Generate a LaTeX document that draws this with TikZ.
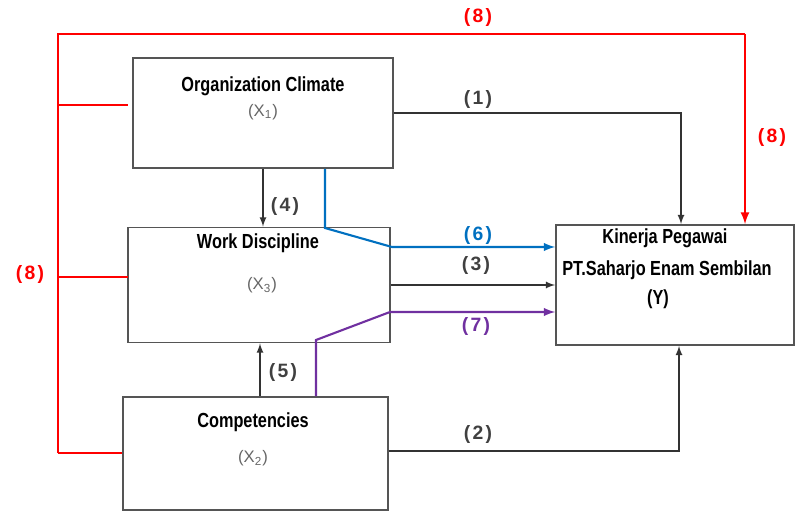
\documentclass[tikz,border=0pt]{standalone}
\usepackage{fontspec}
\setsansfont{Liberation Sans}
\newfontfamily\narrowfont[FakeStretch=0.8]{Liberation Sans}
\newfontfamily\numfont[LetterSpace=12]{Liberation Sans}
\usetikzlibrary{arrows,positioning}
\definecolor{linkblue}{RGB}{0,112,192}
\definecolor{linkpurple}{RGB}{112,48,160}
\definecolor{boxgray}{RGB}{85,85,85}

\begin{document}
\begin{tikzpicture}
[x=0.02cm,y=-0.02cm,>=latex,
 var/.style={draw=boxgray,line width=1.1pt,inner sep=0pt},
 title/.style={font=\narrowfont\bfseries\fontsize{11.6}{13}\selectfont},
 sub/.style={font=\sffamily\fontsize{9.5}{11}\selectfont,text=black!60},
 num/.style={font=\numfont\bfseries\fontsize{11}{12}\selectfont,text=black!75},
 link/.style={draw=black!80,line width=0.8pt},
 path8/.style={red,line width=1.3pt}]
\useasboundingbox (0,0) rectangle (795,513);

% variables
\node[var,minimum width=5.2cm,minimum height=2.2cm] (oc) at (263,113) {};
\node[var,minimum width=5.24cm,minimum height=2.3cm] (kd) at (259,285) {};
\node[var,minimum width=5.3cm,minimum height=2.26cm] (cp) at (255.5,453.5) {};
\node[var,minimum width=4.76cm,minimum height=2.4cm] (kp) at (675,285) {};

\node[title] (oct) at (263,86) {Organization Climate};
\node[sub] (ocs) at (263,112) {(X\textsubscript{1})};
\node[title] (kdt) at (258,243) {Work Discipline};
\node[sub] (kds) at (262,285) {(X\textsubscript{3})};
\node[title] (cpt) at (253,422) {Competencies};
\node[sub] (cps) at (253,458) {(X\textsubscript{2})};
\node[title] (kpt) at (665,238) {Kinerja Pegawai};
\node[title] (kpu) at (667,270) {PT.Saharjo Enam Sembilan};
\node[title] (kpy) at (658,299) {(Y)};

% simultaneous path (8)
\coordinate (rt) at (58,34);
\coordinate (rb) at (58,453);
\coordinate (rr) at (745,34);
\coordinate (s1) at (128,105);
\coordinate (s2) at (128,277);
\draw[path8] (rb) -- (rt) -- (rr);
\draw[path8,->] (rr) -- (kp.north -| rr);
\draw[path8] (rt |- s1) -- (s1);
\draw[path8] (rt |- s2) -- (s2);
\draw[path8] (rb) -- (cp.west |- rb);

% direct paths
\coordinate (j1) at (681,113);
\coordinate (j2) at (679,451);
\draw[link,->] (oc.east) -- (j1) -- (kp.north -| j1);
\draw[link,->] (cp.east |- j2) -- (j2) -- (kp.south -| j2);
\draw[link,->] (kd.east) -- (kp.west);
\draw[link,->] (oc.south) -- (kd.north -| oc.south);
\draw[link,->] (cp.north -| 260,0) -- (kd.south -| 260,0);

% indirect paths
\coordinate (b1) at (325,228);
\coordinate (b2) at (392,247);
\coordinate (p1) at (316,340);
\coordinate (p2) at (390,312);
\draw[link,draw=linkblue,line width=1.2pt,->] (oc.south -| b1) -- (b1) -- (b2) -- (kp.west |- b2);
\draw[link,draw=linkpurple,line width=1.2pt,->] (cp.north -| p1) -- (p1) -- (p2) -- (kp.west |- p2);

% path labels
\node[num,text=red] (l8a) at (478,18) {(8)};
\node[num,text=red] (l8b) at (772,138) {(8)};
\node[num,text=red] (l8c) at (30,275) {(8)};
\node[num] (l1) at (478,100) {(1)};
\node[num] (l4) at (285,207) {(4)};
\node[num,text=linkblue] (l6) at (478,236) {(6)};
\node[num] (l3) at (476,266) {(3)};
\node[num,text=linkpurple] (l7) at (476,327) {(7)};
\node[num] (l5) at (283,373) {(5)};
\node[num] (l2) at (478,435) {(2)};
\end{tikzpicture}
\end{document}
